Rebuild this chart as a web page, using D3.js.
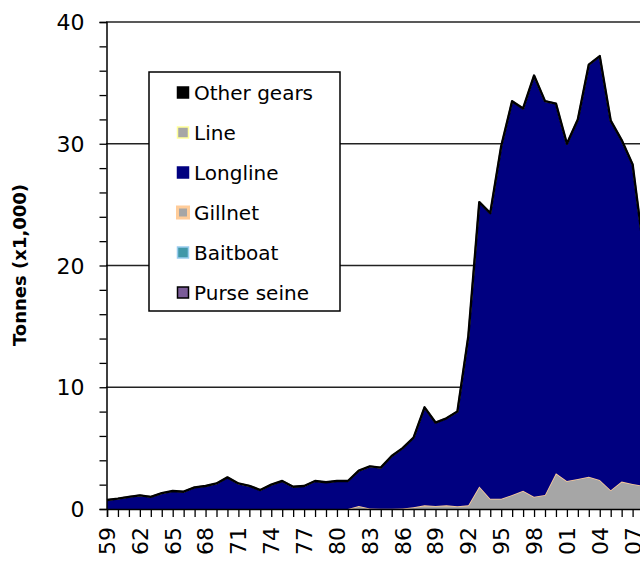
<!DOCTYPE html>
<html><head><meta charset="utf-8">
<script src="https://cdn.jsdelivr.net/npm/d3@7"></script>
<style>html,body{margin:0;padding:0;background:#fff;overflow:hidden}text{font-family:"DejaVu Sans",Verdana,sans-serif;fill:#000}</style>
</head><body><svg id="c" width="640" height="561"></svg>
<script>
const years = d3.range(1959, 2009);
const purseSeine = [0,0,0,0,0,0,0,0,0,0, 0,0,0,0,0,0,0,0,0,0, 0,0,0,0,0,0,0,0,0,0, 0,0,0,0,0,0,0,0,0,0, 0,0,0,0,0,0,0,0,0,0];
const baitboat   = [0,0,0,0,0,0,0,0,0,0, 0,0,0,0,0,0,0,0,0,0, 0,0,0,0,0,0,0,0,0,0, 0,0,0,0,0,0,0,0,0,0, 0,0,0,0,0,0,0,0,0,0];
const gillnet    = [0,0,0,0,0,0,0,0,0,0, 0,0,0,0,0,0,0,0,0,0, 0,0,0,0.25,0.05,0.02,0.02,0.05,0.15,0.3,
                    0.25,0.3,0.22,0.3,1.85,0.85,0.85,1.15,1.5,1.0, 1.15,2.93,2.3,2.46,2.65,2.38,1.55,2.25,2.05,1.9];
const longline   = [0.74,0.85,1.0,1.12,1.0,1.3,1.48,1.42,1.78,1.89, 2.1,2.6,2.1,1.9,1.56,2.0,2.3,1.83,1.89,2.3,
                    2.2,2.3,2.3,2.9,3.45,3.38,4.33,4.95,5.71,8.05, 6.85,7.15,7.78,13.9,23.35,23.45,28.95,32.35,31.4,34.6,
                    32.35,30.37,27.7,29.54,33.85,34.82,30.35,28.05,26.25,19.4];
const line       = [0,0,0,0,0,0,0,0,0,0, 0,0,0,0,0,0,0,0,0,0, 0,0,0,0,0,0,0,0,0,0, 0,0,0,0,0,0,0,0,0,0, 0,0,0,0,0,0,0,0,0,0];
const otherGears = [0,0,0,0,0,0,0,0,0,0, 0,0,0,0,0,0,0,0,0,0, 0,0,0,0,0,0,0,0,0,0, 0,0,0,0,0,0,0,0,0,0, 0,0,0,0,0,0,0,0,0,0];
const seriesNames = ["Purse seine","Baitboat","Gillnet","Longline","Line","Other gears"];
const seriesFill  = ["#7B5C99","#4198A8","#A6A6A6","#000080","#A6A6A6","#000000"];
const seriesEdge  = ["#000000","#99CCEE","#FFCC99","#000080","#FFFF99","#000000"];
const yTicks = [0,10,20,30,40];
const xLabelYears = d3.range(1959, 2009, 3);

const svg = d3.select("#c");
const x = d3.scaleLinear().domain([1959, 2010]).range([107, 107 + 51*10.95]);
const y = d3.scaleLinear().domain([0, 40]).range([509, 22]);

const table = years.map((yr,i)=>({year:yr,
  "Purse seine":purseSeine[i],"Baitboat":baitboat[i],"Gillnet":gillnet[i],
  "Longline":longline[i],"Line":line[i],"Other gears":otherGears[i]}));
const stacked = d3.stack().keys(seriesNames)(table);

// grid lines
svg.append("g").selectAll("line").data(yTicks.filter(d=>d>0)).join("line")
  .attr("x1",106).attr("x2",700).attr("y1",d=>y(d)).attr("y2",d=>y(d))
  .attr("stroke","#222").attr("stroke-width",1.5);

// areas
const area = d3.area().x(d=>x(d.data.year)).y0(d=>y(d[0])).y1(d=>y(d[1]));
const topLine = d3.line().x(d=>x(d.data.year)).y(d=>y(d[1]));
const layers = svg.append("g");
stacked.forEach((s,i)=>{
  layers.append("path").datum(s).attr("d",area).attr("fill",seriesFill[i]);
  layers.append("path").datum(s).attr("d",topLine).attr("fill","none")
    .attr("stroke",seriesEdge[i]).attr("stroke-width", i===5?2.4:1.6).attr("stroke-linejoin","round");
});

// y axis
const yAxis = d3.axisLeft(y).tickValues(d3.range(0,41,2)).tickSize(7).tickFormat(d=>yTicks.includes(d)?d:"");
const gy = svg.append("g").attr("transform","translate(106.5,0)").call(yAxis);
gy.select(".domain").attr("stroke","#000").attr("stroke-width",1.5);
gy.selectAll(".tick line").attr("stroke","#000").attr("stroke-width",1.3);
gy.selectAll(".tick text").attr("font-size",22).attr("font-family","DejaVu Sans").attr("x",-22).attr("dy","0.35em");

// x axis
const xAxis = d3.axisBottom(x).tickValues(d3.range(1959, 2011)).tickSize(8).tickFormat("");
const gx = svg.append("g").attr("transform","translate(0,509)").call(xAxis);
gx.select(".domain").attr("stroke","#000").attr("stroke-width",1.5);
gx.selectAll(".tick line").attr("stroke","#000").attr("stroke-width",1.3);
svg.append("g").selectAll("text").data(xLabelYears).join("text")
  .attr("transform",d=>`translate(${x(d)},527) rotate(-90)`)
  .attr("text-anchor","end").attr("dy","0.36em").attr("font-size",22)
  .text(d=>String(d%100).padStart(2,"0"));

// y title
svg.append("text").attr("transform","translate(20,265) rotate(-90)")
  .attr("text-anchor","middle").attr("dy","0.36em").attr("font-size",18).attr("font-weight","bold")
  .text("Tonnes (x1,000)");

// legend
const lg = svg.append("g");
lg.append("rect").attr("x",149).attr("y",72).attr("width",191).attr("height",239)
  .attr("fill","#fff").attr("stroke","#000").attr("stroke-width",1.5);
const legendOrder = [5,4,3,2,1,0];
legendOrder.forEach((si,k)=>{
  const cy = 92.5 + k*40;
  lg.append("rect").attr("x",177.5).attr("y",cy-5.5).attr("width",11).attr("height",11)
    .attr("fill",seriesFill[si]).attr("stroke",seriesEdge[si]).attr("stroke-width", si===2?3:1.5);
  lg.append("text").attr("x",194).attr("y",cy).attr("dy","0.36em").attr("font-size",20).text(seriesNames[si]);
});
</script></body></html>
